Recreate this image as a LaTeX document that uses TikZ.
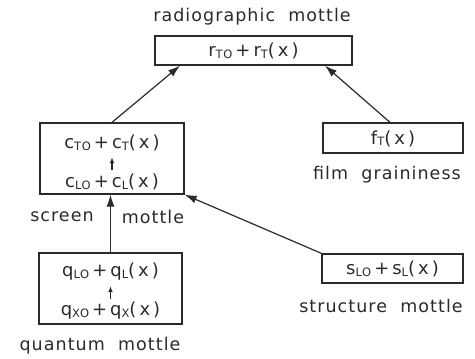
\documentclass[tikz,border=0pt]{standalone}
\usepackage{fontspec}
\setmainfont{DejaVu Sans}[LetterSpace=6]
\newfontfamily\labelfont{DejaVu Sans}[LetterSpace=6]
\usetikzlibrary{arrows.meta}
\definecolor{ink}{HTML}{2A2A2A}
% small subscript letters sitting near the baseline
\newcommand{\lowsub}[1]{\raisebox{-1.5pt}{\fontsize{11.5}{11.5}\selectfont #1}}
\begin{document}
\begin{tikzpicture}[x=1pt,y=-1pt,
  every node/.style={inner sep=0pt, text=ink},
  box/.style={draw=ink, line width=1.3pt, rectangle},
  formula/.style={font=\fontsize{18}{18}\selectfont},
  caption/.style={font=\labelfont\fontsize{17.5}{17.5}\selectfont},
  link/.style={draw=ink, line width=1.2pt, -{Latex[length=12pt,width=8pt]}},
  tinylink/.style={draw=ink, line width=1.1pt, -{Latex[length=6pt,width=4.5pt]}}]
\useasboundingbox (0,0) rectangle (475,359);

% radiographic mottle
\node[caption] (title) at (252,17) {radiographic\ \ mottle};
\node[box, minimum width=197pt, minimum height=29pt] (rbox) at (253.5,50.5) {};
\node[formula] (rtxt) at (253.5,51) {r\lowsub{TO}\,+\,r\lowsub{T}(\,x\,)};

% screen mottle
\node[box, minimum width=144pt, minimum height=71pt] (cbox) at (112,158.5) {};
\node[formula] (ctop) at (112,143) {c\lowsub{TO}\,+\,c\lowsub{T}(\,x\,)};
\node[formula] (cbot) at (112,182) {c\lowsub{LO}\,+\,c\lowsub{L}(\,x\,)};
\coordinate (cmid) at (112,163);
\node[caption] (screenlbl) at (62,217) {screen};
\node[caption] (screenmot) at (153,217) {mottle};

% film graininess
\node[box, minimum width=140pt, minimum height=30pt] (fbox) at (393,138) {};
\node[formula] (ftxt) at (393,138.5) {f\lowsub{T}(\,x\,)};
\node[caption] (filmlbl) at (387,175) {film\ \ graininess};

% quantum mottle
\node[box, minimum width=143pt, minimum height=71pt] (qbox) at (110.5,288.5) {};
\node[formula] (qtop) at (110.5,272) {q\lowsub{LO}\,+\,q\lowsub{L}(\,x\,)};
\node[formula] (qbot) at (110.5,311) {q\lowsub{XO}\,+\,q\lowsub{X}(\,x\,)};
\coordinate (qmid) at (110.5,292);
\node[caption] (quantlbl) at (100,346) {quantum\ \ mottle};

% structure mottle
\node[box, minimum width=141pt, minimum height=29pt] (sbox) at (392.5,268.5) {};
\node[formula] (stxt) at (392.5,269) {s\lowsub{LO}\,+\,s\lowsub{L}(\,x\,)};
\node[caption] (structlbl) at (381,306) {structure\ \ mottle};

% connectors
\draw[link] (cbox.north) -- ([xshift=-73.5pt]rbox.south);
\draw[link] ([xshift=-3pt]fbox.north) -- ([xshift=71.5pt]rbox.south);
\draw[link] (sbox.north west) -- (cbox.south east);
\draw[link] (qbox.north) -- (qbox.north |- cbox.south);
% short arrows inside the two-line boxes (upward)
\draw[tinylink] ([yshift=-7pt]cmid) -- ([yshift=6pt]cmid);
\draw[tinylink] ([yshift=-7pt]qmid) -- ([yshift=6pt]qmid);
\end{tikzpicture}
\end{document}
